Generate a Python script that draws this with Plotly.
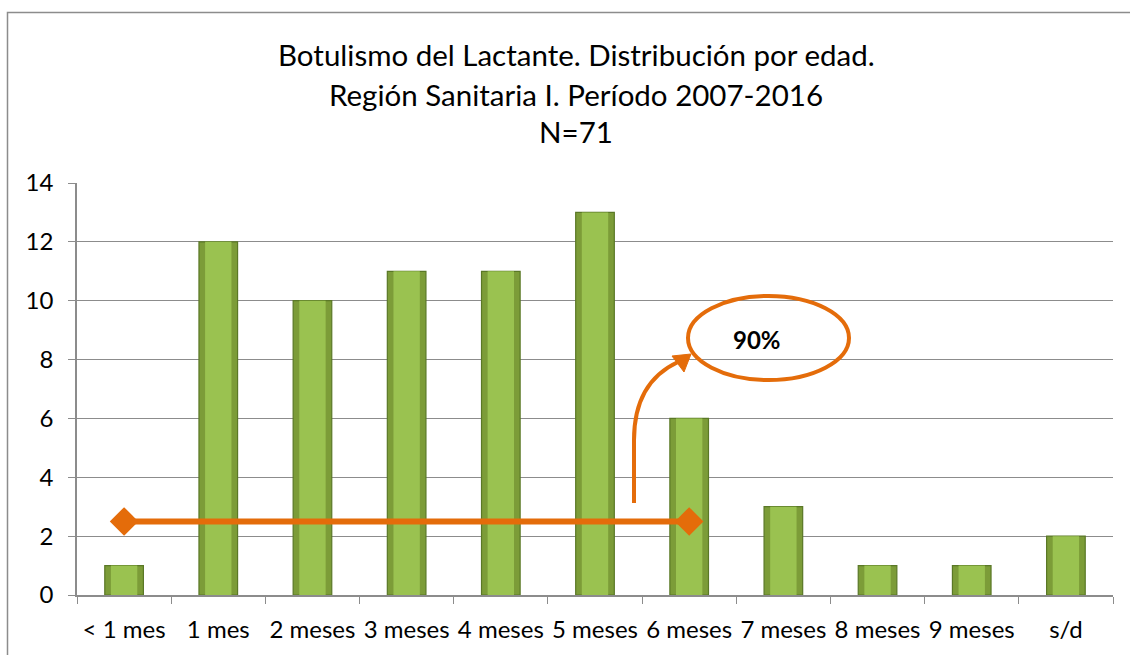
import plotly.graph_objects as go

categories = ["< 1 mes", "1 mes", "2 meses", "3 meses", "4 meses", "5 meses",
              "6 meses", "7 meses", "8 meses", "9 meses", "s/d"]
casos = [1, 12, 10, 11, 11, 13, 6, 3, 1, 1, 2]
line_x = [categories[0], categories[6]]
line_y = [2.5, 2.5]
title_lines = ["Botulismo del Lactante. Distribución por edad.",
               "Región Sanitaria I. Período 2007-2016",
               "N=71"]
pct_label = "90%"

W, H = 1130, 655
L, R, T, B = 77, 17, 183, 60
PW, PH = W - L - R, H - T - B

def px(x):
    return (x - L) / PW

def py(y):
    return (H - B - y) / PH

FONT = "Lato"
ORANGE = "#E46C0A"

fig = go.Figure()
fig.add_trace(go.Bar(
    x=categories, y=casos, width=0.41,
    marker=dict(color="#7C9C38", line=dict(color="#5A7826", width=1.2)),
    hoverinfo="x+y", showlegend=False,
))
fig.add_trace(go.Bar(
    x=categories, y=casos, width=0.28,
    marker=dict(color="#9AC250", line=dict(width=0)),
    hoverinfo="skip", showlegend=False,
))
fig.add_trace(go.Scatter(
    x=line_x, y=line_y, mode="lines+markers",
    line=dict(color=ORANGE, width=6),
    marker=dict(symbol="diamond", size=22, color=ORANGE),
    hoverinfo="skip", showlegend=False,
))

shapes = [
    # outer border (left and top)
    dict(type="path", xref="paper", yref="paper",
         path=f"M {px(7.5)},{py(660)} L {px(7.5)},{py(12.5)} L {px(1135)},{py(12.5)}",
         line=dict(color="#8C8C8C", width=1.5)),
    # ellipse
    dict(type="circle", xref="paper", yref="paper",
         x0=px(688), x1=px(849), y0=py(380), y1=py(296),
         line=dict(color=ORANGE, width=4)),
    # curved arrow body
    dict(type="path", xref="paper", yref="paper",
         path=(f"M {px(634)},{py(503)} L {px(634)},{py(440)} "
               f"C {px(634)},{py(400)} {px(650)},{py(375)} {px(678)},{py(362)}"),
         line=dict(color=ORANGE, width=4)),
    # arrow head
    dict(type="path", xref="paper", yref="paper",
         path=(f"M {px(691)},{py(354)} L {px(672)},{py(356)} L {px(684)},{py(372)} Z"),
         fillcolor=ORANGE, line=dict(color=ORANGE, width=1)),
]

annotations = []
for txt, yy in zip(title_lines, [55, 94, 132]):
    annotations.append(dict(
        text=txt, xref="paper", yref="paper", x=px(576), y=py(yy),
        xanchor="center", yanchor="middle", showarrow=False,
        font=dict(family=FONT, size=29.5, color="#000000"),
    ))
annotations.append(dict(
    text=f"<b>{pct_label}</b>", xref="paper", yref="paper", x=px(757), y=py(339),
    xanchor="center", yanchor="middle", showarrow=False,
    font=dict(family=FONT, size=24, color="#000000"),
))

fig.update_layout(
    width=W, height=H,
    margin=dict(l=L, r=R, t=T, b=B, pad=0, autoexpand=False),
    paper_bgcolor="white", plot_bgcolor="white",
    barmode="overlay", bargap=0.6,
    shapes=shapes, annotations=annotations,
    font=dict(family=FONT, size=24, color="#000000"),
)
fig.update_xaxes(
    type="category", range=[-0.5, 10.5], autorange=False,
    showgrid=False, showline=True, linecolor="#8C8C8C", linewidth=1.5,
    ticks="outside", ticklen=7, tickcolor="#8C8C8C", tickson="boundaries",
    tickangle=0, automargin=False, ticklabelstandoff=12,
    tickfont=dict(family=FONT, size=24), fixedrange=True,
)
fig.update_yaxes(
    range=[0, 14], dtick=2, showgrid=True, gridcolor="#8C8C8C", gridwidth=1.2,
    showline=True, linecolor="#8C8C8C", linewidth=1.5,
    ticks="outside", ticklen=7, tickcolor="#8C8C8C", automargin=False,
    ticklabelstandoff=10,
    tickfont=dict(family=FONT, size=24), zeroline=False, fixedrange=True,
)

fig.write_html("out.html", config={"displayModeBar": False},
               post_script="document.body.style.margin='0px';document.body.style.overflow='hidden';")
